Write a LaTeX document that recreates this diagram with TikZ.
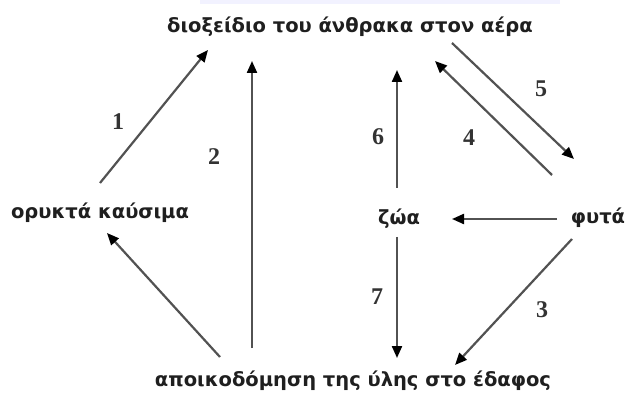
\documentclass[tikz,border=0pt]{standalone}
\usepackage{fontspec}
\setmainfont{DejaVu Sans}
\newfontfamily\numfont{Liberation Serif}
\usetikzlibrary{arrows.meta}
\begin{document}
\begin{tikzpicture}[x=1pt,y=-1pt,
  lbl/.style={font=\fontsize{19.5}{22}\selectfont\bfseries, text=black!88, inner sep=0pt},
  num/.style={font=\numfont\fontsize{24}{26}\selectfont\bfseries, text=black!80, inner sep=0pt},
  arr/.style={draw=black!68, line width=2.2pt, -{Triangle[length=12pt,width=10pt,fill=black,color=black]}}]
\useasboundingbox (0,0) rectangle (630,401);
\fill[blue!5] (200,0) rectangle (560,4);
% texts
\node[lbl] (air) at (350,27) {διοξείδιο του άνθρακα στον αέρα};
\node[lbl] (fuel) at (100,213) {ορυκτά καύσιμα};
\node[lbl] (anim) at (399,219) {ζώα};
\node[lbl] (plant) at (598,218) {φυτά};
\node[lbl] (soil) at (353,381) {αποικοδόμηση της ύλης στο έδαφος};
% endpoints
\coordinate (a1s) at (100,183); \coordinate (a1e) at (208,50);
\coordinate (a2s) at (252,348); \coordinate (a2e) at (252,61);
\coordinate (a3s) at (572,239); \coordinate (a3e) at (455,365);
\coordinate (a4s) at (552,175); \coordinate (a4e) at (435,61);
\coordinate (a5s) at (452,43);  \coordinate (a5e) at (574,159);
\coordinate (a6s) at (397,188); \coordinate (a6e) at (397,70);
\coordinate (a7s) at (397,237); \coordinate (a7e) at (397,358);
\coordinate (a8s) at (557,219); \coordinate (a8e) at (452,219);
\coordinate (a9s) at (220,357); \coordinate (a9e) at (107,233);
% arrows
\draw[arr] (a1s) -- (a1e);
\draw[arr] (a2s) -- (a2e);
\draw[arr] (a3s) -- (a3e);
\draw[arr] (a4s) -- (a4e);
\draw[arr] (a5s) -- (a5e);
\draw[arr] (a6s) -- (a6e);
\draw[arr] (a7s) -- (a7e);
\draw[arr] (a8s) -- (a8e);
\draw[arr] (a9s) -- (a9e);
% numbers
\node[num] (n1) at (118,122) {1};
\node[num] (n2) at (214,157) {2};
\node[num] (n3) at (542,310) {3};
\node[num] (n4) at (469,138) {4};
\node[num] (n5) at (541,89) {5};
\node[num] (n6) at (378,137) {6};
\node[num] (n7) at (377,297) {7};
\end{tikzpicture}
\end{document}
